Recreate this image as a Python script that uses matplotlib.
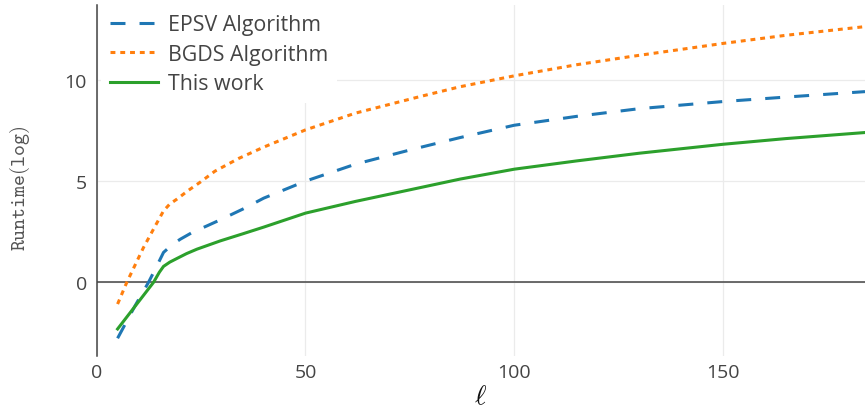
import matplotlib
matplotlib.use("Agg")
import matplotlib.pyplot as plt

plt.rcParams['font.family'] = ['Open Sans', 'DejaVu Sans']
plt.rcParams['mathtext.fontset'] = 'cm'

# values (y = log runtime)
x_epsv = [5, 9.2, 12.4, 14.5, 16, 18, 20, 23, 26.4, 29.6, 35, 40, 50, 62, 75.8, 87, 100, 115, 130, 150, 165, 184]
y_epsv = [-2.76, -1.15, 0, 0.85, 1.48, 1.85, 2.13, 2.48, 2.79, 3.09, 3.62, 4.16, 5.0, 5.84, 6.58, 7.15, 7.76, 8.2, 8.58, 8.93, 9.15, 9.42]

x_bgds = [5, 7.2, 11.2, 13.6, 16, 17.5, 19.2, 22, 24.8, 28.3, 34, 40, 50, 62, 77.5, 87, 100, 115, 127.8, 150, 165, 184]
y_bgds = [-1.07, 0, 1.72, 2.63, 3.53, 3.87, 4.11, 4.55, 4.95, 5.49, 6.12, 6.68, 7.53, 8.36, 9.18, 9.66, 10.2, 10.75, 11.15, 11.8, 12.2, 12.63]

x_ours = [5, 9.6, 13.6, 15, 16, 17.5, 19.2, 21.5, 24, 29.6, 35, 40, 50, 62, 72.7, 87, 100, 115, 130, 150, 165, 184]
y_ours = [-2.3, -1.07, 0, 0.5, 0.79, 1.0, 1.18, 1.42, 1.64, 2.05, 2.4, 2.73, 3.42, 4.0, 4.47, 5.1, 5.59, 6.0, 6.38, 6.82, 7.1, 7.4]

labels = ["EPSV Algorithm", "BGDS Algorithm", "This work"]
xticks = [0, 50, 100, 150]
yticks = [0, 5, 10]

fig = plt.figure(figsize=(8.65, 4.1), dpi=100)
ax = fig.add_axes([0.1118, 0.13, 0.8882, 0.855])

lw = 2.2
ax.plot(x_epsv, y_epsv, color='#1f77b4', lw=lw, dashes=(4.9, 4.6), label=labels[0])
ax.plot(x_bgds, y_bgds, color='#ff7f0e', lw=lw, dashes=(1.6, 1.6), label=labels[1])
ax.plot(x_ours, y_ours, color='#2ca02c', lw=lw, label=labels[2])

ax.set_xlim(0, 184)
ax.set_ylim(-3.62, 13.69)
ax.set_xticks(xticks)
ax.set_yticks(yticks)
ax.tick_params(length=0, labelsize=14, colors='#444444')
ax.tick_params(axis='y', pad=7)
ax.tick_params(axis='x', pad=5)

ax.grid(True, color='#ebebeb', lw=0.9)
ax.set_axisbelow(True)
ax.axhline(0, color='#444444', lw=1.1, zorder=1.5)

for s in ['top', 'right', 'bottom']:
    ax.spines[s].set_visible(False)
ax.spines['left'].set_color('#444444')
ax.spines['left'].set_linewidth(1.1)

ax.set_xlabel(r'$\ell$', fontsize=20, color='#111111')
ax.xaxis.set_label_coords(0.5, -0.115)
ax.xaxis.label.set_va('center')
ax.set_ylabel(r'$\mathtt{Runtime(log)}$', fontsize=15, color='#555555')
ax.yaxis.set_label_coords(-0.0998, 0.481)
ax.yaxis.label.set_va('center')

leg = ax.legend(loc='upper left', bbox_to_anchor=(0.005, 1.0), borderaxespad=0,
                fontsize=15.4, frameon=True, fancybox=False, framealpha=1,
                facecolor='white', edgecolor='none', handlelength=2.25,
                handletextpad=0.47, labelspacing=0.4, borderpad=0.42)
for t in leg.get_texts():
    t.set_color('#444444')

fig.savefig('out.png', dpi=100)
